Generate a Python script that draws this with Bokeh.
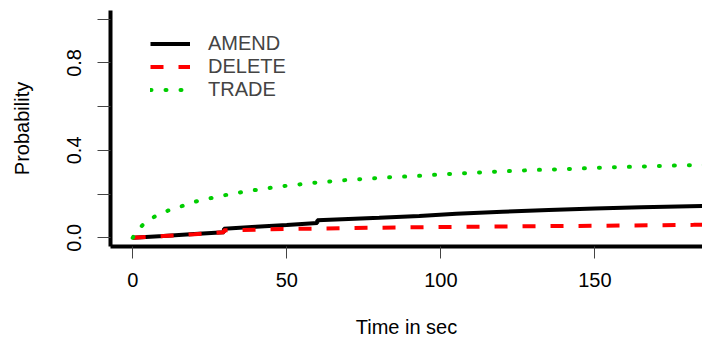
from bokeh.plotting import figure
from bokeh.models import FixedTicker, Legend, LegendItem, Range1d
from bokeh.embed import file_html
from bokeh.resources import INLINE

# ---- data ----
time_amend = [0, 10, 20, 29.6, 29.6, 40, 50, 59.9, 59.9, 70, 80, 93, 105, 120, 135, 150, 165, 185, 187]
p_amend = [0, 0.008, 0.017, 0.025, 0.041, 0.050, 0.058, 0.067, 0.080, 0.086, 0.092, 0.100, 0.110,
           0.119, 0.127, 0.134, 0.140, 0.145, 0.146]

time_delete = [0, 10, 20, 29.6, 29.6, 40, 50, 60, 70, 80, 100, 125, 150, 182, 187]
p_delete = [0, 0.008, 0.016, 0.025, 0.034, 0.037, 0.040, 0.042, 0.044, 0.046, 0.049, 0.052,
            0.055, 0.059, 0.060]

time_trade = [0, 2, 4, 7, 10, 13, 17, 20, 24, 28, 32, 36, 40, 44, 48, 52, 56, 60, 65, 70, 75, 80,
              85, 90, 95, 100, 110, 120, 130, 140, 150, 160, 170, 180, 187]
p_trade = [0, 0.042, 0.068, 0.096, 0.116, 0.133, 0.149, 0.164, 0.178, 0.189, 0.201, 0.210, 0.219,
           0.227, 0.235, 0.241, 0.247, 0.253, 0.259, 0.265, 0.269, 0.274, 0.278, 0.281, 0.285,
           0.290, 0.297, 0.304, 0.310, 0.314, 0.320, 0.324, 0.328, 0.332, 0.334]

series_names = ["AMEND", "DELETE", "TRADE"]
x_ticks = [0, 50, 100, 150]
y_ticks = [0, 0.2, 0.4, 0.6, 0.8, 1]
y_tick_labels = {0: "0.0", 0.2: "", 0.4: "0.4", 0.6: "", 0.8: "0.8", 1: ""}

FONT = "Liberation Sans"

p = figure(width=702, height=344, output_backend="svg", toolbar_location=None,
           x_range=Range1d(-7.2, 184.9), y_range=Range1d(-0.04, 1.04),
           min_border_left=110, min_border_right=0, min_border_top=10, min_border_bottom=98)
p.outline_line_color = None
p.xgrid.visible = False
p.ygrid.visible = False
p.background_fill_color = "white"
p.border_fill_color = "white"

r_amend = p.line(time_amend, p_amend, line_color="black", line_width=4)
r_delete = p.line(time_delete, p_delete, line_color="#FF0000", line_width=4, line_dash="13 15")
r_trade = p.line(time_trade, p_trade, line_color="#00CD00", line_width=4, line_dash="1 14",
                 line_cap="round")

for ax in (p.xaxis[0], p.yaxis[0]):
    ax.axis_line_width = 4
    ax.axis_line_color = "black"
    ax.major_tick_line_color = "#444444"
    ax.major_tick_line_width = 1
    ax.major_tick_in = 0
    ax.major_tick_out = 12
    ax.minor_tick_line_color = None
    ax.major_label_text_font = FONT
    ax.major_label_text_font_size = "20px"
    ax.major_label_text_color = "black"
    ax.axis_label_text_font = FONT
    ax.axis_label_text_font_size = "20px"
    ax.axis_label_text_font_style = "normal"
    ax.axis_label_text_color = "black"

p.xaxis[0].ticker = FixedTicker(ticks=x_ticks)
p.xaxis[0].axis_label = "Time in sec"
p.xaxis[0].major_label_standoff = 14
p.xaxis[0].axis_label_standoff = 26

p.yaxis[0].ticker = FixedTicker(ticks=y_ticks)
p.yaxis[0].major_label_overrides = y_tick_labels
p.yaxis[0].major_label_orientation = "vertical"
p.yaxis[0].axis_label = "Probability"
p.yaxis[0].major_label_standoff = 16
p.yaxis[0].axis_label_standoff = 32
p.yaxis[0].major_tick_out = 13

legend = Legend(items=[LegendItem(label=series_names[0], renderers=[r_amend]),
                       LegendItem(label=series_names[1], renderers=[r_delete]),
                       LegendItem(label=series_names[2], renderers=[r_trade])],
                location=(40, 145), padding=0, margin=0, spacing=0,
                glyph_width=40, glyph_height=23, label_height=23, label_standoff=18,
                label_text_font=FONT, label_text_font_size="20px",
                border_line_color=None, background_fill_alpha=0)
p.add_layout(legend, "center")

open("out.html", "w").write(file_html(p, INLINE))
